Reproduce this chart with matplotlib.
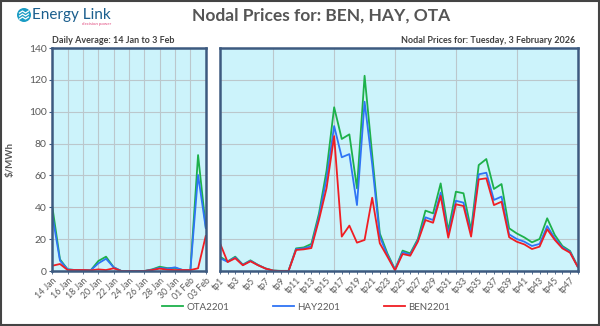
import matplotlib
matplotlib.use("Agg")
import matplotlib.pyplot as plt
from matplotlib.patches import Ellipse, Rectangle
from matplotlib.lines import Line2D

plt.rcParams["font.family"] = ["Lato", "DejaVu Sans"]

# ---- data ----
day_labels = ["14 Jan", "15 Jan", "16 Jan", "17 Jan", "18 Jan", "19 Jan", "20 Jan",
              "21 Jan", "22 Jan", "23 Jan", "24 Jan", "25 Jan", "26 Jan", "27 Jan",
              "28 Jan", "29 Jan", "30 Jan", "31 Jan", "01 Feb", "02 Feb", "03 Feb"]
ota_daily = [40.4, 7.3, 1.0, 0.6, 0.6, 0.4, 6.3, 9.0, 2.3, 0.0, 0.0, 0.0, 0.0, 1.0,
             2.7, 1.8, 1.9, 0.6, 0.6, 72.8, 27.8]
hay_daily = [35.0, 6.5, 1.0, 0.6, 0.6, 0.4, 4.8, 7.7, 2.3, 0.0, 0.0, 0.0, 0.0, 0.8,
             2.0, 1.5, 2.3, 0.6, 0.6, 60.3, 27.0]
ben_daily = [3.3, 4.4, 0.6, 0.6, 0.6, 0.4, 1.0, 0.6, 1.7, 0.0, 0.0, 0.0, 0.0, 0.6,
             1.5, 0.8, 0.6, 0.6, 0.6, 1.7, 22.0]

tp_labels = ["tp%d" % i for i in range(1, 49)]
ota_tp = [9.0, 6.0, 9.0, 4.0, 6.7, 3.8, 1.6, 0.3, 0.1, 0.1, 14.2, 14.8, 17.0, 36.0,
          63.0, 102.8, 82.9, 85.8, 51.9, 122.6, 73.0, 23.6, 11.0, 1.0, 12.8, 11.1,
          20.1, 37.9, 36.2, 55.0, 25.3, 49.8, 48.8, 25.7, 66.5, 70.3, 51.5, 54.6,
          26.8, 23.6, 21.1, 18.0, 20.1, 33.1, 22.6, 15.7, 12.6, 3.0]
hay_tp = [8.0, 5.8, 8.5, 3.8, 6.4, 3.7, 1.5, 0.2, 0.0, 0.0, 13.7, 14.2, 15.5, 34.0,
          58.0, 91.0, 71.4, 73.4, 41.4, 106.3, 67.0, 21.6, 10.0, 0.8, 11.8, 10.3,
          19.2, 33.7, 32.0, 49.2, 23.0, 44.1, 42.9, 23.5, 60.7, 61.7, 44.6, 46.7,
          23.0, 20.1, 18.4, 15.7, 17.0, 28.2, 20.5, 14.9, 12.0, 2.8]
ben_tp = [17.4, 5.6, 8.0, 3.6, 6.1, 3.6, 1.5, 0.2, 0.0, 0.0, 13.2, 13.6, 14.4, 32.0,
          52.0, 84.7, 21.6, 28.5, 17.8, 19.5, 46.0, 17.4, 9.0, 0.4, 10.7, 9.6,
          18.4, 32.0, 30.3, 47.1, 20.9, 41.9, 40.8, 21.6, 57.5, 58.2, 41.4, 43.5,
          21.2, 18.4, 16.7, 13.8, 15.3, 26.2, 19.5, 14.2, 11.5, 2.7]

series_names = ["OTA2201", "HAY2201", "BEN2201"]
colors = ["#1DB14B", "#2F74F5", "#F01E23"]

BG = "#CCF3FB"
FRAME = "#3D5A80"
GRID = "#BBC7CC"
TXT = "#595959"

W, H = 600, 326
fig = plt.figure(figsize=(6.0, 3.26), dpi=100)
fig.patch.set_facecolor("white")
fig.add_artist(Rectangle((0.002, 0.003), 0.996, 0.994, transform=fig.transFigure,
                         fill=False, edgecolor="#444444", linewidth=1.5))

ax1 = fig.add_axes([0.0872, 0.1687, 0.2557, 0.684])
ax2 = fig.add_axes([0.3667, 0.1687, 0.596, 0.684])

for ax in (ax1, ax2):
    ax.set_facecolor(BG)
    ax.set_ylim(0, 140)
    ax.set_yticks(range(0, 141, 20))
    ax.grid(axis="y", color=GRID, linewidth=0.8)
    ax.set_axisbelow(True)
    for sp in ax.spines.values():
        sp.set_color(FRAME)
        sp.set_linewidth(1.8)
    ax.tick_params(axis="x", colors=TXT, labelsize=6.3, length=2, width=0.6,
                   color=FRAME, pad=1.5)

# left: daily averages
xd = list(range(len(day_labels)))
for vals, c in zip([ota_daily, hay_daily, ben_daily], colors):
    ax1.plot(xd, vals, color=c, linewidth=1.3)
ax1.set_xlim(0, len(day_labels) - 1)
ax1.set_xticks(xd[::2])
ax1.set_xticklabels(day_labels[::2], rotation=45, ha="right", rotation_mode="anchor")
ax1.grid(axis="x", color=GRID, linewidth=0.8)
ax1.tick_params(axis="y", colors=TXT, labelsize=7.5, length=2, color=FRAME, pad=2)
ax1.set_ylabel("$/MWh", color=TXT, fontsize=7, fontweight="bold", labelpad=10)

# right: trading periods
xt = list(range(len(tp_labels)))
for vals, c in zip([ota_tp, hay_tp, ben_tp], colors):
    ax2.plot(xt, vals, color=c, linewidth=1.3)
ax2.set_xlim(0, len(tp_labels) - 1)
ax2.set_xticks(xt[::2])
ax2.set_xticklabels(tp_labels[::2], rotation=45, ha="right", rotation_mode="anchor")
ax2.set_xticks(xt, minor=True)
ax2.tick_params(axis="x", which="minor", length=2, width=0.6, color=FRAME)
for g in xt[7::8]:
    ax2.axvline(g, color=GRID, linewidth=0.8, zorder=0.5)
ax2.tick_params(axis="y", left=False, labelleft=False)

# titles
fig.text(321 / W, 1 - 16 / H, "Nodal Prices for: BEN, HAY, OTA", ha="center",
         va="center", fontsize=12.5, fontweight="bold", color="#555555")
fig.text(0.087, 0.877, "Daily Average: 14 Jan to 3 Feb", ha="left", va="center",
         fontsize=6.5, fontweight="bold", color="#404040")
fig.text(0.958, 0.877, "Nodal Prices for: Tuesday, 3 February 2026", ha="right",
         va="center", fontsize=6.5, fontweight="bold", color="#404040")

# logo
cx, cy, r = 24, 15, 7
fig.add_artist(Ellipse((cx / W, 1 - cy / H), 2 * r / W, 2 * r / H,
                       transform=fig.transFigure, facecolor="#1A9CC4",
                       edgecolor="none"))
for dy in (-3, 0, 3):
    fig.add_artist(Line2D([(cx - 4.5) / W, (cx - 1.5) / W, (cx + 1.5) / W, (cx + 4.5) / W],
                          [1 - (cy + dy + 1) / H, 1 - (cy + dy - 1) / H,
                           1 - (cy + dy + 1) / H, 1 - (cy + dy - 1) / H],
                          transform=fig.transFigure, color="white", linewidth=0.9))
fig.text(32 / W, 1 - 15.5 / H, "Energy Link", ha="left", va="center",
         fontsize=11, color="#1B5F8E")
fig.text(111 / W, 1 - 24.5 / H, "decision power", ha="right", va="center",
         fontsize=3.2, color="#E0457B")

# legend
handles = [Line2D([0], [0], color=c, linewidth=1.3) for c in colors]
fig.legend(handles, series_names, loc="center", bbox_to_anchor=(0.51, 0.058),
           ncol=3, frameon=False, fontsize=7, labelcolor=TXT, handlelength=2.2,
           handletextpad=0.3, columnspacing=4.5)

fig.savefig("out.png", dpi=100)
